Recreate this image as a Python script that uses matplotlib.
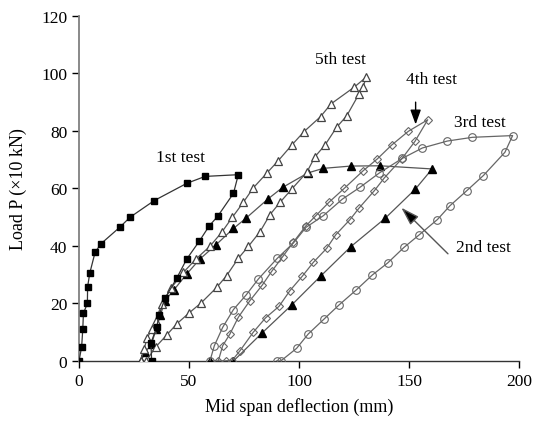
import matplotlib
matplotlib.use("Agg")
import matplotlib.pyplot as plt

# Load-deflection records, deflection in mm and load in units of 10 kN
test1_x = [0, 1.2, 1.7, 2.0, 3.8, 3.9, 4.9, 7.3, 10.0, 18.5, 23.2, 34.2, 49.0, 57.3, 72.4,
           70.2, 63.0, 59.2, 54.7, 49.0, 44.4, 39.1, 36.4, 35.3, 32.7, 33.0]
test1_y = [0, 5, 11, 16.6, 20, 25.8, 30.6, 37.8, 40.8, 46.5, 50, 55.8, 61.8, 64.2, 64.8,
           58.3, 50.3, 47, 41.7, 35.5, 28.8, 21.8, 16.1, 11.7, 6.3, 0]

test2_x = [28.2, 30, 33, 35, 37, 39.1, 43.2, 49, 55, 62.1, 70.2, 75.8, 85.8, 92.6, 104, 111,
           123.5, 136.8, 160.5, 152.9, 139.1, 123.6, 109.8, 96.7, 83, 70.2, 59.5]
test2_y = [0, 3, 6, 11, 16, 21, 24.8, 30.3, 35.5, 40.3, 46.1, 49.6, 56.3, 60.4, 65.4, 67,
           67.8, 67.9, 66.8, 59.8, 49.6, 39.8, 29.5, 19.5, 9.6, 0, 0]

test3_x = [59.5, 61.5, 65.3, 70.2, 76, 81.5, 90.1, 97.4, 103.2, 111, 119.7, 127.7, 136.5,
           147.0, 156.1, 167.4, 178.8, 197.1, 193.6, 183.8, 176.2, 168.6, 162.9, 154.5,
           147.7, 140.3, 133.3, 126, 118.2, 111.4, 104.2, 98.9, 91.7, 89.8]
test3_y = [0, 5.3, 11.7, 17.9, 23, 28.5, 35.7, 41, 46.5, 50.5, 56.3, 60.4, 65.4,
           70.5, 74.1, 76.5, 77.8, 78.4, 72.6, 64.5, 59.2, 54, 49.2, 43.8,
           39.5, 34.1, 29.9, 24.7, 19.5, 14.6, 9.4, 4.4, 0, 0]

test4_x = [63.3, 65.3, 68.6, 72.4, 77.7, 83.3, 87.6, 92.6, 97.4, 103, 107.6, 113.6, 120.5,
           129.2, 135.6, 142.1, 149.7, 158.5, 152.7, 146.7, 138.8, 134.2, 127.3, 123.2,
           116.7, 112.6, 106.5, 101.5, 95.9, 90.9, 84.8, 79.2, 73.2, 69.4, 67.0]
test4_y = [0, 5.3, 9.4, 15.2, 21, 26.4, 31.2, 36.3, 41.3, 46.9, 50.5, 55.2, 60,
           66.2, 70.3, 75.1, 79.9, 83.9, 76.4, 70.3, 63.7, 59.2, 53.2, 49.2,
           43.9, 39.2, 34.3, 29.5, 24.5, 19, 15, 10, 3.6, 0, 0]

test5_x = [28, 29.5, 31, 33, 34.8, 37.6, 42, 47.4, 53.2, 59.5, 64.9, 69.7, 74.7, 79.2, 85.3,
           90.6, 96.7, 102.3, 109.8, 114.5, 125, 130.5, 129.2, 127.3, 121.7, 117.1, 111.8,
           107.3, 103.5, 96.7, 91.4, 86.8, 82.3, 77, 72.4, 67.1, 62.6, 55.5, 50, 44.4,
           39.8, 35, 30.5]
test5_y = [0, 4, 8, 11, 14, 19.8, 25.5, 30.8, 35.5, 39.9, 44.8, 50, 55.2, 60.2, 65.3,
           69.7, 75.1, 79.8, 85, 89.4, 95.2, 98.7, 95.4, 92.9, 85.3, 81.3, 75.1,
           71.1, 65.6, 59.8, 55.2, 50.9, 45, 39.9, 35.7, 29.7, 25.6, 20.2, 16.7, 12.9,
           9, 5, 0]

x_ticks = [0, 50, 100, 150, 200]
y_ticks = [0, 20, 40, 60, 80, 100, 120]

plt.rcParams["font.family"] = ["Liberation Serif", "DejaVu Serif"]

fig = plt.figure(figsize=(5.42, 4.31), dpi=100)
ax = fig.add_axes([0.1458, 0.1601, 0.8118, 0.8005])

ax.plot(test2_x, test2_y, color="#555555", lw=0.9, marker="^", ms=6,
        mfc="black", mec="black", zorder=3)
ax.plot(test3_x, test3_y, color="#666666", lw=0.9, marker="o", ms=5.5,
        mfc="none", mec="#666666", mew=0.8, zorder=3)
ax.plot(test4_x, test4_y, color="#666666", lw=0.9, marker="D", ms=4.5,
        mfc="none", mec="#666666", mew=0.8, zorder=3)
ax.plot(test5_x, test5_y, color="#555555", lw=0.9, marker="^", ms=6,
        mfc="white", mec="#444444", mew=0.9, zorder=4)
ax.plot(test1_x, test1_y, color="#333333", lw=0.9, marker="s", ms=5,
        mfc="black", mec="black", zorder=5)

ax.set_xlim(0, 200)
ax.set_ylim(0, 120)
ax.set_xticks(x_ticks)
ax.set_yticks(y_ticks)
ax.tick_params(labelsize=12.5, colors="black", direction="out", length=5, width=1)
for side in ("top", "right"):
    ax.spines[side].set_visible(False)
ax.spines["left"].set_color("#808080")
ax.spines["left"].set_linewidth(1.3)
ax.spines["bottom"].set_color("#333333")
ax.spines["bottom"].set_linewidth(1.0)
for t in ax.yaxis.get_ticklines():
    t.set_color("#555555")

ax.set_xlabel("Mid span deflection (mm)", fontsize=13, labelpad=6)
ax.set_ylabel("Load P (\u00d710 kN)", fontsize=13, labelpad=10)

lbl = dict(fontsize=12.5, ha="center", va="center")
ax.text(45.9, 71, "1st test", **lbl)
ax.text(119, 105, "5th test", **lbl)
ax.text(160.2, 98, "4th test", **lbl)
ax.text(182.3, 83.1, "3rd test", **lbl)
ax.text(171.4, 39.6, "2nd test", fontsize=12.5, ha="left", va="center")

ax.annotate("", xy=(153, 81.3), xytext=(153, 91),
            arrowprops=dict(arrowstyle="-|>,head_length=0.55,head_width=0.2",
                            color="black", lw=1.0, mutation_scale=16))
ax.annotate("", xy=(145.6, 54), xytext=(168.6, 36.6),
            arrowprops=dict(arrowstyle="-|>,head_length=0.7,head_width=0.22",
                            fc="black", ec="#555555", lw=1.0, mutation_scale=16))

fig.savefig("out.png", dpi=100)
